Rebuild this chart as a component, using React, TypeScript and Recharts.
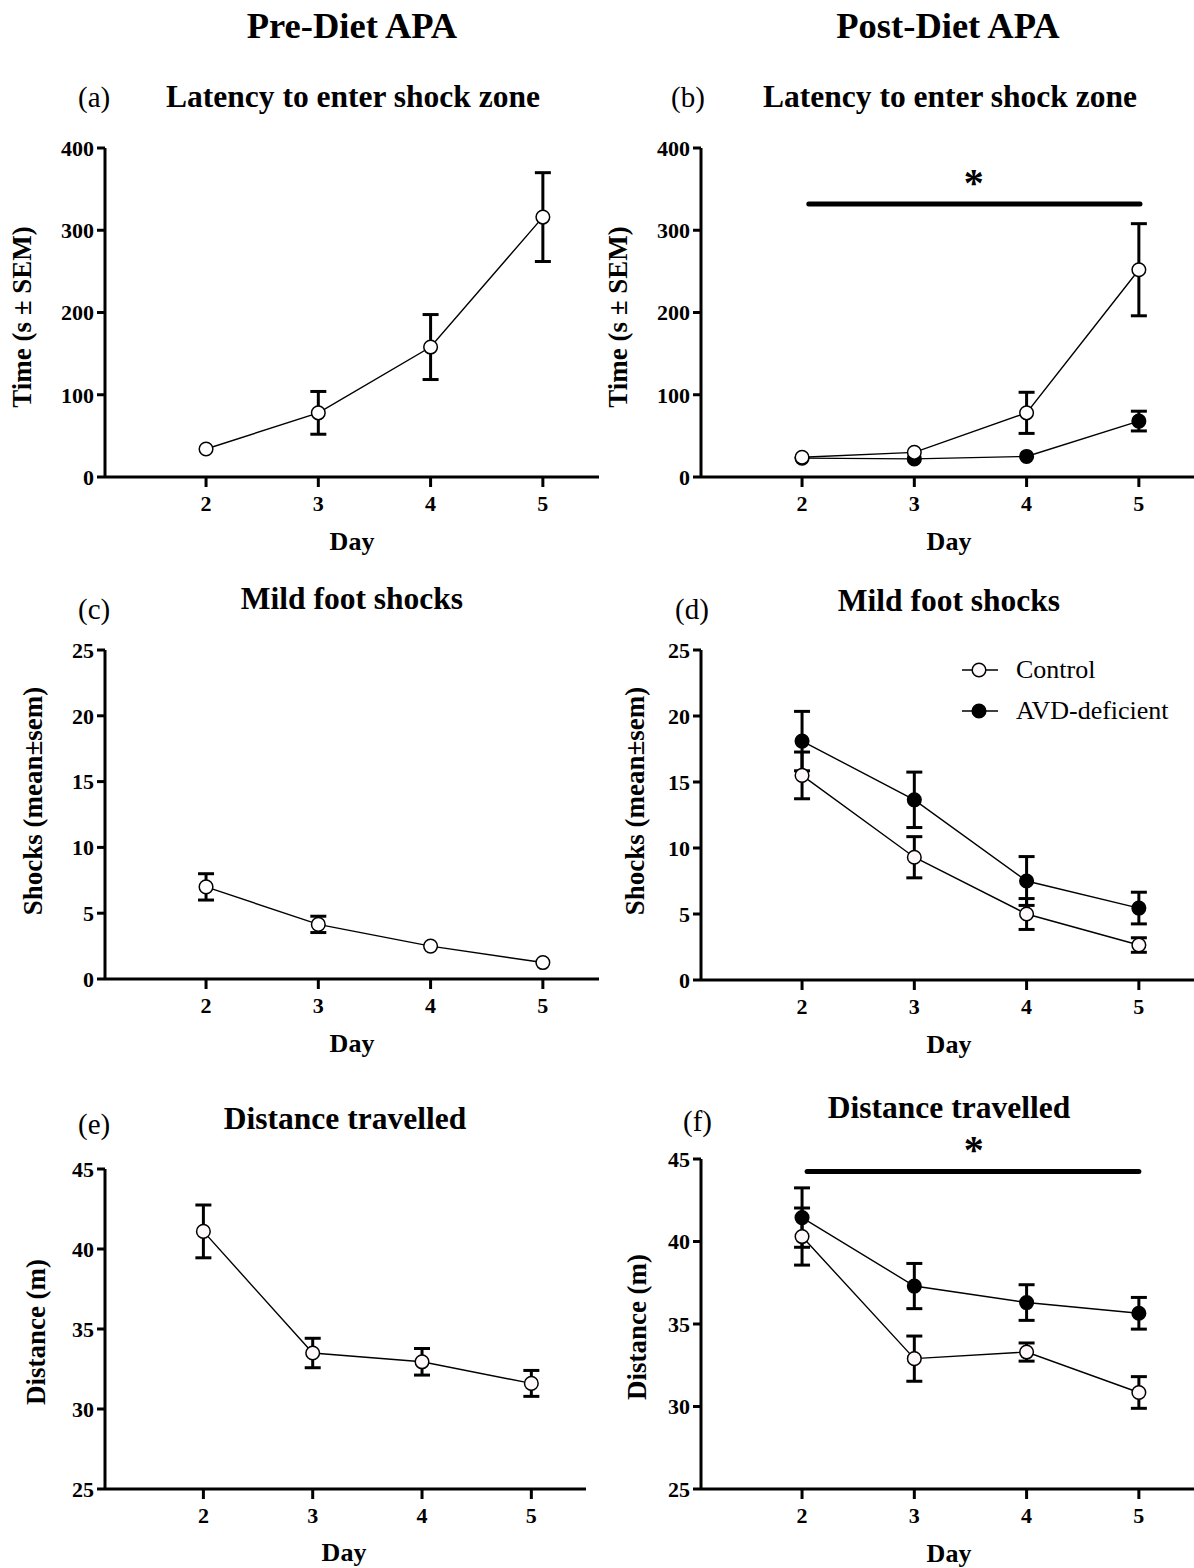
import React from 'react';
import { LineChart, Line, XAxis, YAxis, ErrorBar, ReferenceLine, ReferenceDot, Legend } from 'recharts';

const FONT = "'Liberation Serif', 'Times New Roman', Times, serif";

// ---------- data ----------
const days = [2, 3, 4, 5];
const dayTicks = [2, 3, 4, 5];

const latencyTicks = [0, 100, 200, 300, 400];
const shockTicks = [0, 5, 10, 15, 20, 25];
const distanceTicks = [25, 30, 35, 40, 45];

const seriesNames = ['Control', 'AVD-deficient'];

// (a) Pre-diet latency
const preLatencyMean = [34, 78, 158, 316];
const preLatencySem = [0, 26, 39.5, 54];
// (b) Post-diet latency
const postLatencyControlMean = [24, 30, 78, 252];
const postLatencyControlSem = [0, 0, 25, 56];
const postLatencyAvdMean = [23, 22, 25, 68];
const postLatencyAvdSem = [0, 0, 0, 12];
// (c) Pre-diet shocks
const preShockMean = [7.0, 4.15, 2.5, 1.25];
const preShockSem = [1.0, 0.62, 0, 0];
// (d) Post-diet shocks
const postShockControlMean = [15.5, 9.3, 5.0, 2.65];
const postShockControlSem = [1.77, 1.56, 1.17, 0.55];
const postShockAvdMean = [18.1, 13.65, 7.5, 5.45];
const postShockAvdSem = [2.25, 2.1, 1.85, 1.2];
// (e) Pre-diet distance
const preDistanceMean = [41.1, 33.5, 32.95, 31.6];
const preDistanceSem = [1.65, 0.92, 0.83, 0.81];
// (f) Post-diet distance
const postDistanceControlMean = [40.3, 32.9, 33.3, 30.85];
const postDistanceControlSem = [1.73, 1.37, 0.55, 0.96];
const postDistanceAvdMean = [41.45, 37.3, 36.3, 35.65];
const postDistanceAvdSem = [1.8, 1.37, 1.08, 0.96];

// significance markers
const sigLatency = { x1: 2.06, x2: 5.01, y: 332, starX: 3.53, starY: 363 };
const sigDistance = { x1: 2.045, x2: 5.0, y: 44.25, starX: 3.53, starY: 45.85 };

function buildRows(ctrl: number[], ctrlSem: number[], avd?: number[], avdSem?: number[]) {
  return days.map((day, i) => {
    const row: any = { day, control: ctrl[i], controlErr: ctrlSem[i] };
    if (avd && avdSem) {
      row.avd = avd[i];
      row.avdErr = avdSem[i];
    }
    return row;
  });
}

const axisLineStyle = { stroke: '#000', strokeWidth: 3 };
const tickStyle = { fill: '#000', fontSize: 22, fontWeight: 'bold', fontFamily: FONT };

type PanelProps = {
  left: number;
  top: number;
  width: number;
  height: number;
  data: any[];
  yDomain: [number, number];
  yTicks: number[];
  twoSeries?: boolean;
  sig?: { x1: number; x2: number; y: number; starX: number; starY: number };
  legend?: boolean;
  ctrlFill?: string;
};

function Panel({ left, top, width, height, data, yDomain, yTicks, twoSeries, sig, legend, ctrlFill = '#ffffff' }: PanelProps) {
  const legendContent = (props: any) => {
    const payload = [...(props.payload || [])].sort(
      (a: any, b: any) => seriesNames.indexOf(a.value) - seriesNames.indexOf(b.value)
    );
    return (
      <div style={{ fontFamily: FONT, fontSize: 26, color: '#000' }}>
        {payload.map((entry: any) => (
          <div key={entry.value} style={{ display: 'flex', alignItems: 'center', height: 41 }}>
            <svg width={36} height={20} style={{ display: 'block' }}>
              <line x1={0} y1={10} x2={36} y2={10} stroke="#000" strokeWidth={1.5} />
              <circle
                cx={17}
                cy={10}
                r={6.8}
                fill={entry.value === 'Control' ? ctrlFill : '#000'}
                stroke="#000"
                strokeWidth={1.5}
              />
            </svg>
            <span style={{ marginLeft: 18, lineHeight: '41px', whiteSpace: 'nowrap' }}>{entry.value}</span>
          </div>
        ))}
      </div>
    );
  };

  return (
    <div style={{ position: 'absolute', left, top }}>
      <LineChart width={width} height={height} data={data} margin={{ top: 40, right: 0, bottom: 0, left: 0 }}>
        <XAxis
          type="number"
          dataKey="day"
          domain={[1.1, 5.5]}
          ticks={dayTicks}
          allowDataOverflow
          interval={0}
          height={60}
          tickSize={10}
          tickMargin={8}
          axisLine={axisLineStyle}
          tickLine={axisLineStyle}
          tick={tickStyle}
        />
        <YAxis
          type="number"
          domain={yDomain}
          ticks={yTicks}
          allowDataOverflow
          interval={0}
          width={70}
          tickSize={8}
          tickMargin={3}
          axisLine={axisLineStyle}
          tickLine={axisLineStyle}
          tick={tickStyle}
        />
        {sig && (
          <ReferenceLine
            segment={[
              { x: sig.x1, y: sig.y },
              { x: sig.x2, y: sig.y },
            ]}
            stroke="#000"
            strokeWidth={5}
            strokeLinecap="round"
            ifOverflow="visible"
          />
        )}
        {sig && (
          <ReferenceDot
            x={sig.starX}
            y={sig.starY}
            r={1}
            ifOverflow="visible"
            shape={(p: any) => (
              <text
                x={p.cx}
                y={p.cy}
                dy="0.45em"
                textAnchor="middle"
                fontSize={40}
                fontWeight="bold"
                fontFamily={FONT}
                fill="#000"
              >
                *
              </text>
            )}
          />
        )}
        {twoSeries && (
          <Line
            dataKey="avd"
            name="AVD-deficient"
            stroke="#000"
            strokeWidth={1.4}
            isAnimationActive={false}
            activeDot={false}
            dot={{ r: 6.8, fill: '#000', stroke: '#000', strokeWidth: 1.5 }}
          >
            <ErrorBar dataKey="avdErr" direction="y" width={8} strokeWidth={3} stroke="#000" />
          </Line>
        )}
        <Line
          dataKey="control"
          name="Control"
          stroke="#000"
          strokeWidth={1.4}
          isAnimationActive={false}
          activeDot={false}
          dot={{ r: 6.8, fill: ctrlFill, stroke: '#000', strokeWidth: 1.5 }}
        >
          <ErrorBar dataKey="controlErr" direction="y" width={8} strokeWidth={3} stroke="#000" />
        </Line>
        {legend && (
          <Legend
            layout="vertical"
            align="center"
            verticalAlign="middle"
            content={legendContent}
            wrapperStyle={{ left: 331, top: 39, width: 'auto' }}
          />
        )}
      </LineChart>
    </div>
  );
}

const titleTexts = [
  { t: 'Pre-Diet APA', x: 352, y: 38 },
  { t: 'Post-Diet APA', x: 948, y: 38 },
];
const letterTexts = [
  { t: '(a)', x: 78, y: 107 },
  { t: '(b)', x: 671, y: 107 },
  { t: '(c)', x: 78, y: 619 },
  { t: '(d)', x: 675, y: 619 },
  { t: '(e)', x: 78, y: 1134 },
  { t: '(f)', x: 683, y: 1131 },
];
const subtitleTexts = [
  { t: 'Latency to enter shock zone', x: 353, y: 107 },
  { t: 'Latency to enter shock zone', x: 950, y: 107 },
  { t: 'Mild foot shocks', x: 352, y: 609 },
  { t: 'Mild foot shocks', x: 949, y: 611 },
  { t: 'Distance travelled', x: 345, y: 1129 },
  { t: 'Distance travelled', x: 949, y: 1118 },
];
const xLabelTexts = [
  { t: 'Day', x: 352, y: 550 },
  { t: 'Day', x: 949, y: 550 },
  { t: 'Day', x: 352, y: 1052 },
  { t: 'Day', x: 949, y: 1053 },
  { t: 'Day', x: 344, y: 1561 },
  { t: 'Day', x: 949, y: 1562 },
];
const yLabelTexts = [
  { t: 'Time (s \u00b1 SEM)', x: 22, y: 317 },
  { t: 'Time (s \u00b1 SEM)', x: 618, y: 317 },
  { t: 'Shocks (mean\u00b1sem)', x: 33, y: 801 },
  { t: 'Shocks (mean\u00b1sem)', x: 635, y: 801 },
  { t: 'Distance (m)', x: 36, y: 1332 },
  { t: 'Distance (m)', x: 637, y: 1327 },
];

export default function App() {
  const dataA = buildRows(preLatencyMean, preLatencySem);
  const dataB = buildRows(postLatencyControlMean, postLatencyControlSem, postLatencyAvdMean, postLatencyAvdSem);
  const dataC = buildRows(preShockMean, preShockSem);
  const dataD = buildRows(postShockControlMean, postShockControlSem, postShockAvdMean, postShockAvdSem);
  const dataE = buildRows(preDistanceMean, preDistanceSem);
  const dataF = buildRows(postDistanceControlMean, postDistanceControlSem, postDistanceAvdMean, postDistanceAvdSem);

  return (
    <div
      style={{
        position: 'absolute',
        left: 0,
        top: 0,
        width: 1194,
        height: 1568,
        overflow: 'hidden',
        background: '#fff',
      }}
    >
      <Panel left={35} top={108} width={564} height={429} data={dataA} yDomain={[0, 400]} yTicks={latencyTicks} />
      <Panel
        left={631}
        top={108}
        width={564}
        height={429}
        data={dataB}
        yDomain={[0, 400]}
        yTicks={latencyTicks}
        twoSeries
        sig={sigLatency}
      />
      <Panel left={35} top={610} width={564} height={429} data={dataC} yDomain={[0, 25]} yTicks={shockTicks} />
      <Panel
        left={631}
        top={610}
        width={564}
        height={430}
        data={dataD}
        yDomain={[0, 25]}
        yTicks={shockTicks}
        twoSeries
        legend
        ctrlFill="#fff8fb"
      />
      <Panel left={35} top={1129} width={551} height={420} data={dataE} yDomain={[25, 45]} yTicks={distanceTicks} ctrlFill="#fff8fb" />
      <Panel
        left={631}
        top={1119}
        width={564}
        height={430}
        data={dataF}
        yDomain={[25, 45]}
        yTicks={distanceTicks}
        twoSeries
        sig={sigDistance}
        ctrlFill="#fff8fb"
      />
      <svg
        width={1194}
        height={1568}
        style={{ position: 'absolute', left: 0, top: 0, pointerEvents: 'none' }}
        fontFamily={FONT}
        fill="#000"
      >
        {titleTexts.map((d, i) => (
          <text key={'t' + i} x={d.x} y={d.y} textAnchor="middle" fontSize={36.5} fontWeight="bold">
            {d.t}
          </text>
        ))}
        {letterTexts.map((d, i) => (
          <text key={'l' + i} x={d.x} y={d.y} fontSize={29}>
            {d.t}
          </text>
        ))}
        {subtitleTexts.map((d, i) => (
          <text key={'s' + i} x={d.x} y={d.y} textAnchor="middle" fontSize={31.5} fontWeight="bold">
            {d.t}
          </text>
        ))}
        {xLabelTexts.map((d, i) => (
          <text key={'x' + i} x={d.x} y={d.y} textAnchor="middle" fontSize={26} fontWeight="bold">
            {d.t}
          </text>
        ))}
        {yLabelTexts.map((d, i) => (
          <text
            key={'y' + i}
            x={d.x}
            y={d.y}
            dy="0.32em"
            textAnchor="middle"
            fontSize={27}
            fontWeight="bold"
            transform={`rotate(-90 ${d.x} ${d.y})`}
          >
            {d.t}
          </text>
        ))}
      </svg>
    </div>
  );
}
